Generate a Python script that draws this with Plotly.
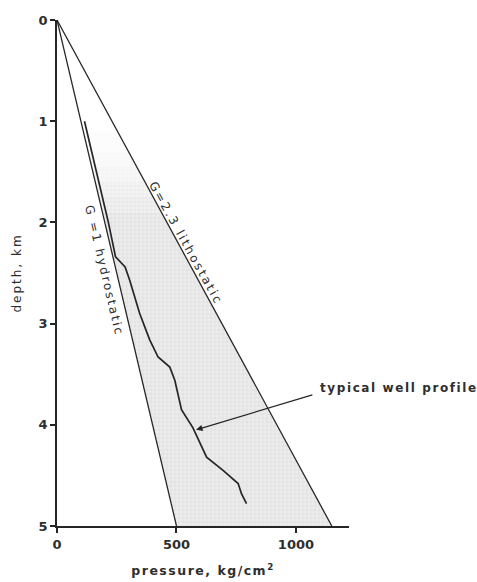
import plotly.graph_objects as go

# Pressure gradients (specific gravity G; 100 kg/cm2 per km for G=1)
gradient_names = ["hydrostatic", "lithostatic"]
gradient_G = [1.0, 2.3]
line_depths = [0.0, 5.0]

# Typical well pressure profile (depth km, pressure kg/cm2)
well_depth = [1.00, 1.50, 2.00, 2.34, 2.44, 2.57, 2.90, 3.16, 3.33, 3.43,
              3.56, 3.85, 4.03, 4.32, 4.45, 4.58, 4.68, 4.78]
well_pressure = [115, 166, 215, 245, 285, 304, 346, 388, 423, 472,
                 493, 521, 569, 626, 695, 758, 772, 793]

# Shaded band between the two gradients (fades in at shallow depth)
shade_tops = [1.1, 1.3, 1.45, 1.6, 1.75, 1.9]
shade_opacity = [0.12, 0.25, 0.4, 0.6, 0.8, 1.0]

x_ticks = [0, 500, 1000]
y_ticks = [0, 1, 2, 3, 4, 5]

INK = "#262626"
TEXT = "#2e2e2e"
FONT = "DejaVu Sans"


def spaced(text, px=1.5):
    return f'<span style="letter-spacing:{px}px">{text}</span>'


def pressure(G, d):
    return G * 100.0 * d


fig = go.Figure()

# dotted gray wedge between hydrostatic and lithostatic lines
for i, top in enumerate(shade_tops):
    bottom = shade_tops[i + 1] if i + 1 < len(shade_tops) else line_depths[1]
    xs = [pressure(gradient_G[0], top), pressure(gradient_G[1], top),
          pressure(gradient_G[1], bottom), pressure(gradient_G[0], bottom),
          pressure(gradient_G[0], top)]
    ys = [top, top, bottom, bottom, top]
    fig.add_trace(go.Scatter(
        x=xs, y=ys, mode="lines", line=dict(width=0),
        fill="toself", fillcolor="#ebebeb", opacity=shade_opacity[i],
        fillpattern=dict(shape="+", fgcolor="#c4c4c4", bgcolor="#ececec",
                         size=4, solidity=0.25),
        hoverinfo="skip", showlegend=False))

# gradient lines
for name, G in zip(gradient_names, gradient_G):
    fig.add_trace(go.Scatter(
        x=[pressure(G, d) for d in line_depths], y=line_depths,
        mode="lines", line=dict(color=INK, width=1.3),
        name=name, showlegend=False))

# well profile
fig.add_trace(go.Scatter(
    x=well_pressure, y=well_depth, mode="lines",
    line=dict(color=INK, width=1.7), name="typical well profile",
    showlegend=False))

label_font = dict(family=FONT, size=12, color=TEXT)

fig.add_annotation(x=198, y=2.48, xref="x", yref="y",
                   text=spaced("G =1 hydrostatic", 2), showarrow=False,
                   textangle=76.8, font=label_font)
fig.add_annotation(x=540, y=2.2, xref="x", yref="y",
                   text=spaced("G=2.3 lithostatic", 2.2), showarrow=False,
                   textangle=61, font=label_font)

# well profile callout
fig.add_annotation(x=1.0, y=0.273, xref="paper", yref="paper",
                   xanchor="left", yanchor="middle", xshift=-31,
                   text=spaced("<b>typical well profile</b>", 1.6),
                   showarrow=False, font=dict(family=FONT, size=12, color=TEXT))
fig.add_annotation(x=582, y=4.05, ax=1075, ay=3.70, xref="x", yref="y",
                   axref="x", ayref="y", text="", showarrow=True,
                   arrowhead=2, arrowsize=1.0, arrowwidth=1.3, arrowcolor=INK)

axis_common = dict(showline=True, linecolor=INK, linewidth=1.8, showgrid=False,
                   zeroline=False, ticks="outside", ticklen=5, tickwidth=1.5,
                   tickcolor=INK, automargin=False,
                   tickfont=dict(family=FONT, size=13, color=TEXT))

fig.update_layout(
    width=477, height=582,
    margin=dict(l=57, r=128, t=20, b=56),
    paper_bgcolor="white", plot_bgcolor="white",
    xaxis=dict(range=[0, 1222], tickvals=x_ticks,
               ticktext=[f"<b>{v}</b>" for v in x_ticks],
               title=dict(text=spaced("<b>pressure, kg/cm<sup>2</sup></b>", 1.5),
                          font=dict(family=FONT, size=12.5, color=TEXT),
                          standoff=16),
               **axis_common),
    yaxis=dict(range=[5, 0], tickvals=y_ticks,
               ticktext=[f"<b>{v}</b>" for v in y_ticks],
               title=dict(text=spaced("depth, km", 2),
                          font=dict(family=FONT, size=12, color=TEXT),
                          standoff=14),
               **axis_common),
)

fig.write_html("out.html")
